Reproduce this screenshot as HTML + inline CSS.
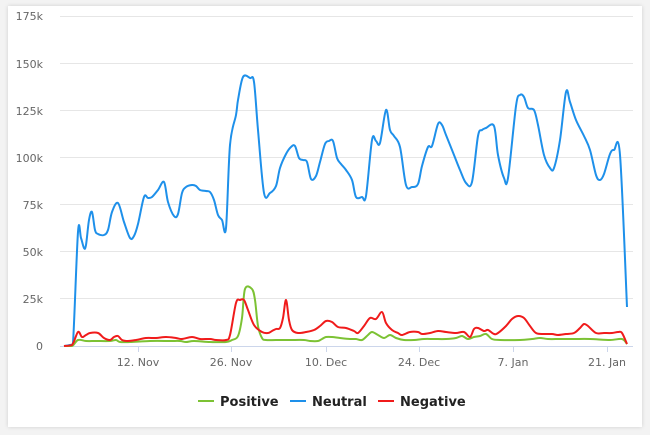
<!DOCTYPE html>
<html><head><meta charset="utf-8"><style>
html,body{margin:0;padding:0;background:#f3f3f3;}
body{width:650px;height:435px;position:relative;overflow:hidden;font-family:"DejaVu Sans","Liberation Sans",sans-serif;}
.card{position:absolute;left:8px;top:6px;width:634px;height:421px;background:#fff;box-shadow:0 0 4px rgba(0,0,0,0.15);}
svg{position:absolute;left:0;top:0;}
</style></head><body>
<div class="card"></div>
<svg width="650" height="435" viewBox="0 0 650 435">
<g stroke="#e6e6e6" stroke-width="1">
<line x1="60" x2="633" y1="16.5" y2="16.5"/><line x1="60" x2="633" y1="63.5" y2="63.5"/>
<line x1="60" x2="633" y1="110.5" y2="110.5"/><line x1="60" x2="633" y1="157.5" y2="157.5"/>
<line x1="60" x2="633" y1="204.5" y2="204.5"/><line x1="60" x2="633" y1="251.5" y2="251.5"/>
<line x1="60" x2="633" y1="298.5" y2="298.5"/>
</g>
<line x1="60" x2="633" y1="346.5" y2="346.5" stroke="#ccd6eb"/>
<g stroke="#ccd6eb"><line x1="138.5" x2="138.5" y1="346" y2="352"/><line x1="231.5" x2="231.5" y1="346" y2="352"/><line x1="326.5" x2="326.5" y1="346" y2="352"/><line x1="419.5" x2="419.5" y1="346" y2="352"/><line x1="513.5" x2="513.5" y1="346" y2="352"/><line x1="607.5" x2="607.5" y1="346" y2="352"/></g>
<g font-size="11" fill="#666" text-anchor="end">
<text x="43" y="20">175k</text><text x="43" y="68">150k</text><text x="43" y="115">125k</text><text x="43" y="162">100k</text><text x="43" y="209">75k</text><text x="43" y="256">50k</text><text x="43" y="303">25k</text><text x="43" y="350">0</text>
</g>
<g font-size="11" fill="#666" text-anchor="middle">
<text x="138" y="366">12. Nov</text><text x="231" y="366">26. Nov</text><text x="326" y="366">10. Dec</text><text x="419" y="366">24. Dec</text><text x="513" y="366">7. Jan</text><text x="607" y="366">21. Jan</text>
</g>
<path id="pn" fill="none" stroke="#1e90ea" stroke-width="2" stroke-linejoin="round"/>
<path id="pg" fill="none" stroke="#7cc234" stroke-width="2" stroke-linejoin="round"/>
<path id="pr" fill="none" stroke="#f01b1b" stroke-width="2" stroke-linejoin="round"/>
<g font-size="13" font-weight="bold" fill="#222">
<line x1="198" x2="214" y1="401" y2="401" stroke="#7cc234" stroke-width="2"/><text x="220" y="406">Positive</text>
<line x1="290" x2="306" y1="401" y2="401" stroke="#1e90ea" stroke-width="2"/><text x="312" y="406">Neutral</text>
<line x1="378" x2="394" y1="401" y2="401" stroke="#f01b1b" stroke-width="2"/><text x="400" y="406">Negative</text>
</g>
</svg>
<script>
function cl(v){return Math.min(v,346);}
function sm(p){var d="M"+p[0][0]+","+p[0][1];for(var i=0;i<p.length-1;i++){var a=p[i-1]||p[i],b=p[i],c=p[i+1],e=p[i+2]||c;var t=6;d+=" C"+(b[0]+(c[0]-a[0])/t)+","+cl(b[1]+(c[1]-a[1])/t)+" "+(c[0]-(e[0]-b[0])/t)+","+cl(c[1]-(e[1]-b[1])/t)+" "+c[0]+","+c[1];}return d;}
var N=[[64,346],[70,345],[73,343],[78,232],[81,238],[84,248],[86,245],[89,220],[92,212],[95,230],[98,234],[104,235],[108,230],[112,212],[118,203],[124,222],[130,238],[134,236],[138,224],[144,197],[148,198],[152,197],[158,190],[164,182],[168,202],[174,216],[178,214],[182,193],[186,187],[192,185],[196,186],[200,190],[206,191],[210,192],[214,200],[218,215],[222,220],[226,228],[230,145],[236,115],[238,100],[243,77],[250,78],[254,82],[258,130],[264,193],[270,193],[276,186],[280,168],[286,154],[291,147],[295,146],[299,158],[303,160],[307,162],[311,179],[316,176],[320,162],[325,144],[329,141],[333,141],[337,158],[341,164],[346,170],[352,180],[356,197],[362,197],[366,196],[372,140],[376,141],[380,143],[386,110],[390,130],[394,136],[400,147],[406,185],[412,187],[418,184],[422,166],[428,147],[432,146],[438,124],[442,125],[446,135],[454,155],[460,170],[466,183],[472,182],[478,136],[482,130],[486,128],[494,126],[498,155],[504,178],[508,178],[516,106],[520,95],[524,97],[528,108],[534,110],[538,125],[544,155],[550,168],[554,168],[560,140],[566,92],[570,102],[576,120],[584,136],[590,150],[596,175],[600,180],[604,174],[610,154],[614,150],[620,155],[627,307]];
var R=[[64,346],[72,345],[78,332],[82,337],[86,335],[90,333],[98,333],[104,338],[110,340],[114,337],[118,336],[122,340],[128,341],[136,340],[146,338],[156,338],[166,337],[176,338],[182,339],[192,337],[200,339],[210,339],[216,340],[226,340],[230,335],[236,303],[240,300],[244,300],[248,310],[254,325],[262,332],[268,333],[272,331],[276,329],[280,328],[283,318],[286,300],[289,320],[292,330],[298,333],[306,332],[314,330],[320,326],[326,321],[332,322],[338,327],[346,328],[354,331],[358,333],[364,326],[370,318],[376,319],[382,312],[386,323],[392,330],[398,333],[402,335],[410,332],[418,332],[422,334],[430,333],[438,331],[446,332],[456,333],[464,332],[470,337],[474,329],[478,328],[484,331],[488,330],[494,334],[498,333],[506,326],[512,319],[518,316],[524,318],[530,326],[536,333],[544,334],[552,334],[558,335],[566,334],[574,333],[580,328],[584,324],[588,326],[596,333],[604,333],[612,333],[618,332],[622,333],[627,344]];
var G=[[64,346],[72,346],[78,340],[86,341],[96,341],[110,341],[116,340],[120,342],[130,342],[150,341],[170,341],[180,341],[186,342],[194,341],[210,342],[226,342],[232,340],[238,336],[242,318],[245,289],[252,289],[255,300],[258,326],[262,338],[266,340],[276,340],[290,340],[304,340],[310,341],[318,341],[322,339],[326,337],[332,337],[340,338],[350,339],[356,339],[362,340],[368,335],[372,332],[378,335],[384,338],[390,335],[396,338],[404,340],[414,340],[424,339],[434,339],[446,339],[456,338],[462,336],[468,339],[474,337],[480,336],[486,334],[492,339],[500,340],[520,340],[532,339],[540,338],[548,339],[560,339],[574,339],[590,339],[610,340],[622,339],[627,344]];
document.getElementById("pn").setAttribute("d",sm(N));
document.getElementById("pr").setAttribute("d",sm(R));
document.getElementById("pg").setAttribute("d",sm(G));
</script>
</body></html>
